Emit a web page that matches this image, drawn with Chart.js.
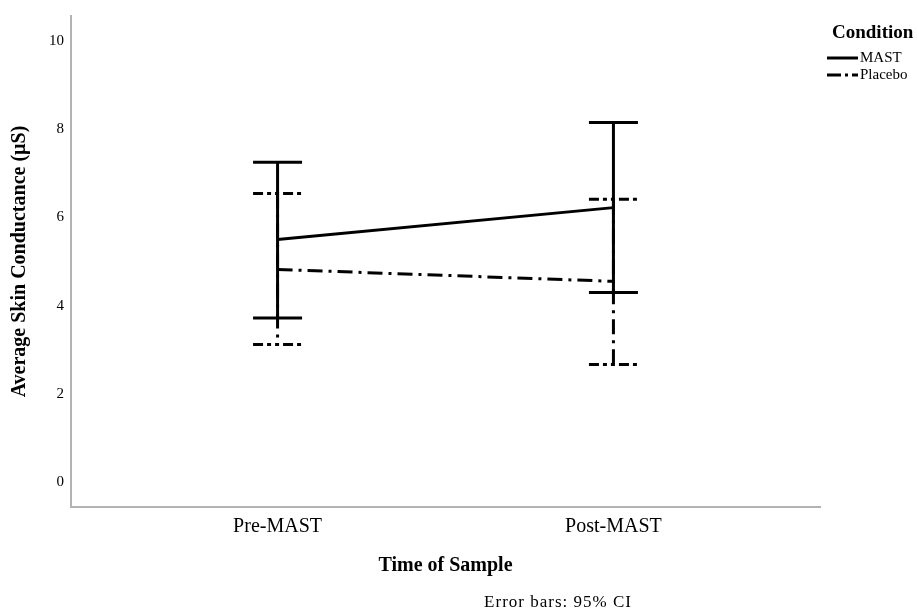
<!DOCTYPE html>
<html>
<head>
<meta charset="utf-8">
<script src="https://cdn.jsdelivr.net/npm/chart.js@4/dist/chart.umd.min.js"></script>
<style>
  html, body { margin: 0; padding: 0; background: #fff; }
  #wrap { width: 918px; height: 613px; }
</style>
</head>
<body>
<div id="wrap"><canvas id="chart" width="918" height="613"></canvas></div>
<script>
// values
const categories = ["Pre-MAST", "Post-MAST"];
const mastMean = [5.50, 6.22];
const mastLower = [3.72, 4.30];
const mastUpper = [7.25, 8.15];
const placeboMean = [4.82, 4.55];
const placeboLower = [3.12, 2.67];
const placeboUpper = [6.54, 6.41];
const yTicks = [0, 2, 4, 6, 8, 10];

const SERIF = "'Liberation Serif', 'Times New Roman', serif";
const placeboDash = [15, 6, 3, 6];

function points(values) {
  return values.map((v, i) => ({ x: i, y: v }));
}

// error bars + legend + footnote
const extras = {
  id: "extras",
  afterDatasetsDraw(chart) {
    const ctx = chart.ctx;
    const xs = chart.scales.x, ys = chart.scales.y;
    const bars = [
      { lo: placeboLower, hi: placeboUpper, dash: placeboDash, capDash: [10, 4, 4, 4, 4, 4] },
      { lo: mastLower, hi: mastUpper, dash: [], capDash: [] }
    ];
    bars.forEach(b => {
      ctx.save();
      ctx.strokeStyle = "#000";
      ctx.lineWidth = 3;
      categories.forEach((c, i) => {
        const x = xs.getPixelForValue(i);
        const yl = ys.getPixelForValue(b.lo[i]);
        const yh = ys.getPixelForValue(b.hi[i]);
        ctx.setLineDash(b.dash);
        ctx.beginPath();
        ctx.moveTo(x, yh); ctx.lineTo(x, yl);
        ctx.stroke();
        ctx.setLineDash(b.capDash);
        [yh, yl].forEach(y => {
          ctx.beginPath();
          ctx.moveTo(x - 24.5, y); ctx.lineTo(x + 24.5, y);
          ctx.stroke();
        });
      });
      ctx.restore();
    });
  },
  afterDraw(chart) {
    const ctx = chart.ctx;
    ctx.save();
    ctx.fillStyle = "#000";
    ctx.textBaseline = "middle";
    ctx.textAlign = "left";
    ctx.font = "bold 19px " + SERIF;
    ctx.fillText("Condition", 832, 33);

    const items = [["MAST", []], ["Placebo", [14, 4, 3, 4]]];
    items.forEach((it, k) => {
      const y = 58 + k * 17;
      ctx.save();
      ctx.lineWidth = 3;
      ctx.strokeStyle = "#000";
      ctx.setLineDash(it[1]);
      ctx.beginPath();
      ctx.moveTo(827, y); ctx.lineTo(858, y);
      ctx.stroke();
      ctx.restore();
      ctx.font = "15px " + SERIF;
      ctx.fillText(it[0], 860, y);
    });

    ctx.font = "17px " + SERIF;
    ctx.textAlign = "center";
    if ("letterSpacing" in ctx) ctx.letterSpacing = "1px";
    ctx.fillText("Error bars: 95% CI", 558, 603);
    ctx.restore();
  }
};

new Chart(document.getElementById("chart"), {
  type: "line",
  data: {
    datasets: [
      {
        label: "MAST",
        data: points(mastMean),
        borderColor: "#000",
        borderWidth: 3,
        pointRadius: 0,
        tension: 0
      },
      {
        label: "Placebo",
        data: points(placeboMean),
        borderColor: "#000",
        borderWidth: 3,
        borderDash: placeboDash,
        pointRadius: 0,
        tension: 0
      }
    ]
  },
  options: {
    responsive: false,
    animation: false,
    layout: { padding: { top: 13, right: 98, left: 0, bottom: 0 } },
    plugins: { legend: { display: false }, tooltip: { enabled: false } },
    scales: {
      x: {
        type: "linear",
        min: -0.615,
        max: 1.615,
        afterBuildTicks: s => { s.ticks = categories.map((c, i) => ({ value: i })); },
        afterFit: s => { s.height = 106; },
        ticks: {
          callback: v => categories[v],
          color: "#000",
          font: { family: SERIF, size: 20 },
          padding: 8,
          maxRotation: 0
        },
        grid: { display: false, drawTicks: false },
        border: { color: "#b3b3b3", width: 2 },
        title: {
          display: true,
          text: "Time of Sample",
          color: "#000",
          font: { family: SERIF, size: 20, weight: "bold" },
          padding: { top: 0, bottom: 35 }
        }
      },
      y: {
        min: -0.56,
        max: 10.56,
        afterBuildTicks: s => { s.ticks = yTicks.map(v => ({ value: v })); },
        afterFit: s => { s.width = 71; },
        ticks: {
          color: "#000",
          font: { family: SERIF, size: 15 },
          padding: 7
        },
        grid: { display: false, drawTicks: false },
        border: { color: "#b3b3b3", width: 2 },
        title: {
          display: true,
          text: "Average Skin Conductance (µS)",
          color: "#000",
          font: { family: SERIF, size: 20, weight: "bold" },
          padding: { top: 8, bottom: 0 }
        }
      }
    }
  },
  plugins: [extras]
});
</script>
</body>
</html>
